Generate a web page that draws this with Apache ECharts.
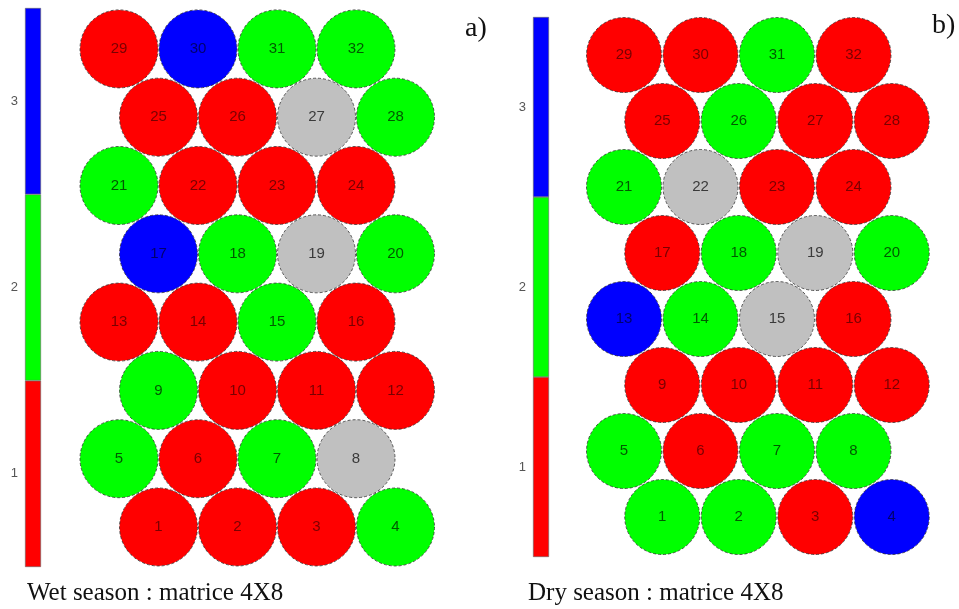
<!DOCTYPE html>
<html>
<head>
<meta charset="utf-8">
<script src="https://cdn.jsdelivr.net/npm/echarts@6/dist/echarts.min.js"></script>
<style>
  html, body { margin: 0; padding: 0; background: #fff; }
  #main { width: 959px; height: 609px; }
</style>
</head>
<body>
<div id="main"></div>
<script>
// cluster of each SOM unit (1..32), 0 = not assigned (grey)
var wetClusters = [1, 1, 1, 2,  2, 1, 2, 0,  2, 1, 1, 1,  1, 1, 2, 1,
                   3, 2, 0, 2,  2, 1, 1, 1,  1, 1, 0, 2,  1, 3, 2, 2];
var dryClusters = [2, 2, 1, 3,  2, 1, 2, 2,  1, 1, 1, 1,  3, 2, 0, 1,
                   1, 2, 0, 2,  2, 0, 1, 1,  1, 2, 1, 1,  1, 1, 2, 1];
var barLabels = ['1', '2', '3'];
var captions = ['Wet season : matrice 4X8', 'Dry season : matrice 4X8'];
var panelTags = ['a)', 'b)'];

var fillColors = ['#c0c0c0', '#ff0000', '#00ff00', '#0000ff'];
var textColors = ['#3a3a3a', '#7a0000', '#005a00', '#00006e'];
var COLS = 4;

function hexData(clusters) {
    return clusters.map(function (c, i) {
        var row = Math.floor(i / COLS);
        var col = i % COLS;
        var shift = (row % 2 === 0) ? 0.5 : 0;
        return {
            value: [col + shift, row, c, i + 1],
            itemStyle: { color: fillColors[c] },
            label: { color: textColors[c] }
        };
    });
}

function barData() {
    return barLabels.map(function (l, i) {
        return { value: 1, itemStyle: { color: fillColors[i + 1] } };
    });
}

var chart = echarts.init(document.getElementById('main'));

var hexSeries = function (idx, clusters, size) {
    return {
        type: 'scatter',
        xAxisIndex: idx,
        yAxisIndex: idx,
        symbol: 'circle',
        symbolSize: size,
        silent: true,
        data: hexData(clusters),
        itemStyle: {
            opacity: 1,
            borderColor: 'rgba(40,40,40,0.75)',
            borderWidth: 1,
            borderType: [3, 2]
        },
        label: {
            show: true,
            position: 'inside',
            fontFamily: 'Liberation Sans, Arial, sans-serif',
            fontSize: 15,
            formatter: function (p) { return p.value[3]; }
        }
    };
};

var barSeries = function (idx) {
    return {
        type: 'bar',
        xAxisIndex: idx,
        yAxisIndex: idx,
        barCategoryGap: 0,
        silent: true,
        data: barData(),
        itemStyle: { borderColor: '#666', borderWidth: 0.6 }
    };
};

var hidden = { show: false };

var option = {
    backgroundColor: '#fff',
    animation: false,
    grid: [
        { left: 79.5, top: 14.75, width: 355.5, height: 546.4 },
        { left: 585.75, top: 22, width: 344.25, height: 528 },
        { left: 25, top: 8, width: 16, height: 559 },
        { left: 533, top: 17, width: 16, height: 540 }
    ],
    xAxis: [
        { type: 'value', gridIndex: 0, min: -0.5, max: 4, axisLine: hidden, axisTick: hidden, axisLabel: hidden, splitLine: hidden },
        { type: 'value', gridIndex: 1, min: -0.5, max: 4, axisLine: hidden, axisTick: hidden, axisLabel: hidden, splitLine: hidden },
        { type: 'value', gridIndex: 2, min: 0, max: 1, axisLine: hidden, axisTick: hidden, axisLabel: hidden, splitLine: hidden },
        { type: 'value', gridIndex: 3, min: 0, max: 1, axisLine: hidden, axisTick: hidden, axisLabel: hidden, splitLine: hidden }
    ],
    yAxis: [
        { type: 'value', gridIndex: 0, min: -0.5, max: 7.5, axisLine: hidden, axisTick: hidden, axisLabel: hidden, splitLine: hidden },
        { type: 'value', gridIndex: 1, min: -0.5, max: 7.5, axisLine: hidden, axisTick: hidden, axisLabel: hidden, splitLine: hidden },
        {
            type: 'category', gridIndex: 2, data: barLabels,
            axisLine: hidden, axisTick: hidden, splitLine: hidden,
            axisLabel: { margin: 7, color: '#555', fontSize: 13, fontFamily: 'Liberation Sans, Arial, sans-serif' }
        },
        {
            type: 'category', gridIndex: 3, data: barLabels,
            axisLine: hidden, axisTick: hidden, splitLine: hidden,
            axisLabel: { margin: 7, color: '#555', fontSize: 13, fontFamily: 'Liberation Sans, Arial, sans-serif' }
        }
    ],
    series: [
        hexSeries(0, wetClusters, 78),
        hexSeries(1, dryClusters, 75),
        barSeries(2),
        barSeries(3)
    ],
    graphic: [
        { type: 'text', left: 27, top: 581, style: { text: captions[0], font: '25px "Liberation Serif", serif', fill: '#111' } },
        { type: 'text', left: 528, top: 581, style: { text: captions[1], font: '25px "Liberation Serif", serif', fill: '#111' } },
        { type: 'text', left: 465, top: 15, style: { text: panelTags[0], font: '28px "Liberation Serif", serif', fill: '#111' } },
        { type: 'text', left: 932, top: 12, style: { text: panelTags[1], font: '28px "Liberation Serif", serif', fill: '#111' } }
    ]
};

chart.setOption(option);
</script>
</body>
</html>
